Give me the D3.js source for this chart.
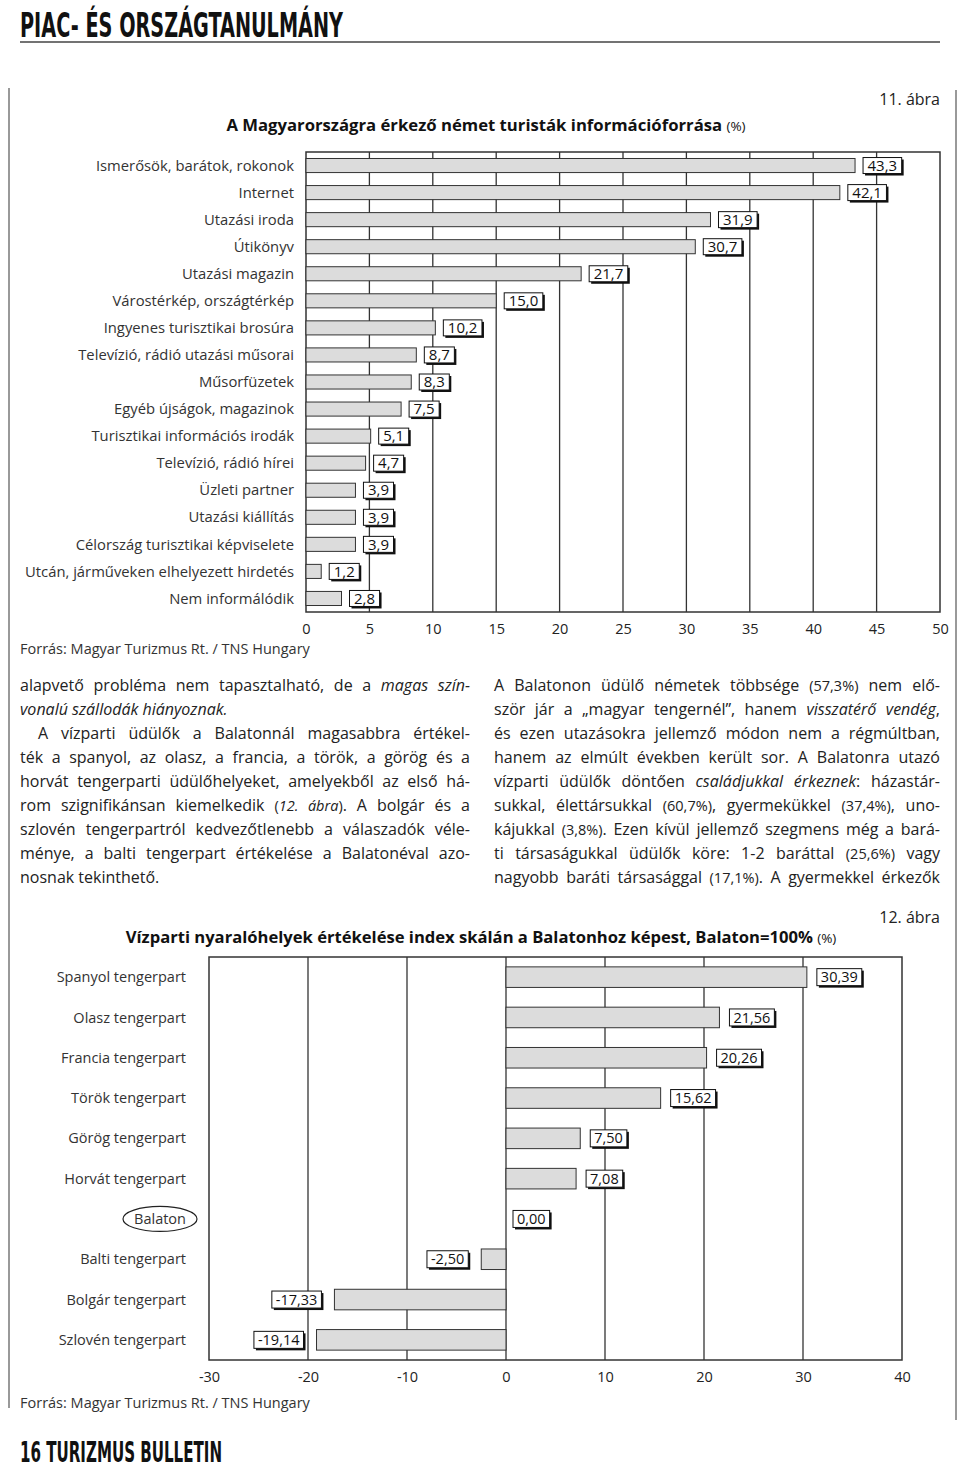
<!DOCTYPE html>
<html>
<head>
<meta charset="utf-8">
<script src="https://cdn.jsdelivr.net/npm/d3@7"></script>
<style>
  body { margin: 0; background: #fff; }
  svg { display: block; }
  text { font-family: "Open Sans", sans-serif; fill: #222; }
</style>
</head>
<body>
<div id="page"></div>
<script>
// --- chart 11: information sources ---
var sources = ["Ismerősök, barátok, rokonok", "Internet", "Utazási iroda", "Útikönyv",
  "Utazási magazin", "Várostérkép, országtérkép", "Ingyenes turisztikai brosúra",
  "Televízió, rádió utazási műsorai", "Műsorfüzetek", "Egyéb újságok, magazinok",
  "Turisztikai információs irodák", "Televízió, rádió hírei", "Üzleti partner",
  "Utazási kiállítás", "Célország turisztikai képviselete",
  "Utcán, járműveken elhelyezett hirdetés", "Nem informálódik"];
var sourceShare = [43.3, 42.1, 31.9, 30.7, 21.7, 15.0, 10.2, 8.7, 8.3, 7.5, 5.1, 4.7, 3.9, 3.9, 3.9, 1.2, 2.8];
var sourceTicks = [0, 5, 10, 15, 20, 25, 30, 35, 40, 45, 50];

// --- chart 12: seaside resorts vs Balaton ---
var resorts = ["Spanyol tengerpart", "Olasz tengerpart", "Francia tengerpart", "Török tengerpart",
  "Görög tengerpart", "Horvát tengerpart", "Balaton", "Balti tengerpart",
  "Bolgár tengerpart", "Szlovén tengerpart"];
var resortIndex = [30.39, 21.56, 20.26, 15.62, 7.50, 7.08, 0.00, -2.50, -17.33, -19.14];
var resortTicks = [-30, -20, -10, 0, 10, 20, 30, 40];

// body text, two columns (segments: [text, style])
var leftCol = [
  [["alapvető probléma nem tapasztalható, de a ", ""], ["magas szín-", "i"]],
  [["vonalú szállodák hiányoznak.", "i"]],
  [["A vízparti üdülők a Balatonnál magasabbra értékel-", ""]],
  [["ték a spanyol, az olasz, a francia, a török, a görög és a", ""]],
  [["horvát tengerparti üdülőhelyeket, amelyekből az első há-", ""]],
  [["rom szignifikánsan kiemelkedik ", ""], ["(", "s"], ["12. ábra", "si"], [")", "s"], [". A bolgár és a", ""]],
  [["szlovén tengerpartról kedvezőtlenebb a válaszadók véle-", ""]],
  [["ménye, a balti tengerpart értékelése a Balatonéval azo-", ""]],
  [["nosnak tekinthető.", ""]]
];
var leftJustify = [true, false, true, true, true, true, true, true, false];
var leftIndent = [0, 0, 18, 0, 0, 0, 0, 0, 0];
var rightCol = [
  [["A Balatonon üdülő németek többsége ", ""], ["(57,3%)", "s"], [" nem elő-", ""]],
  [["ször jár a „magyar tengernél”, hanem ", ""], ["visszatérő vendég", "i"], [",", ""]],
  [["és ezen utazásokra jellemző módon nem a régmúltban,", ""]],
  [["hanem az elmúlt években került sor. A Balatonra utazó", ""]],
  [["vízparti üdülők döntően ", ""], ["családjukkal érkeznek", "i"], [": házastár-", ""]],
  [["sukkal, élettársukkal ", ""], ["(60,7%)", "s"], [", gyermekükkel ", ""], ["(37,4%)", "s"], [", uno-", ""]],
  [["kájukkal ", ""], ["(3,8%)", "s"], [". Ezen kívül jellemző szegmens még a bará-", ""]],
  [["ti társaságukkal üdülők köre: 1-2 baráttal ", ""], ["(25,6%)", "s"], [" vagy", ""]],
  [["nagyobb baráti társasággal ", ""], ["(17,1%)", "s"], [". A gyermekkel érkezők", ""]]
];

var svg = d3.select("#page").append("svg")
    .attr("width", 960)
    .attr("height", 1471);

var fmt1 = function(v) { return d3.format(".1f")(v).replace(".", ",").replace("−", "-"); };
var fmt2 = function(v) { return d3.format(".2f")(v).replace(".", ",").replace("−", "-"); };

// page frame
svg.append("line").attr("x1", 9).attr("x2", 9).attr("y1", 88).attr("y2", 1408)
    .attr("stroke", "#999").attr("stroke-width", 2);
svg.append("line").attr("x1", 956).attr("x2", 956).attr("y1", 90).attr("y2", 1420)
    .attr("stroke", "#999").attr("stroke-width", 2);

// header
svg.append("text")
    .attr("x", 20).attr("y", 37)
    .attr("textLength", 323).attr("lengthAdjust", "spacingAndGlyphs")
    .style("font-family", "'DejaVu Sans Condensed', sans-serif")
    .style("font-weight", "bold").style("font-size", "34px").style("fill", "#111")
    .text("PIAC- ÉS ORSZÁGTANULMÁNY");
svg.append("line").attr("x1", 20).attr("x2", 940).attr("y1", 42).attr("y2", 42)
    .attr("stroke", "#444").attr("stroke-width", 1.5);

// footer
svg.append("text")
    .attr("x", 20).attr("y", 1462)
    .attr("textLength", 202).attr("lengthAdjust", "spacingAndGlyphs")
    .style("font-family", "'DejaVu Sans Condensed', sans-serif")
    .style("font-weight", "bold").style("font-size", "29px").style("fill", "#111")
    .text("16  TURIZMUS BULLETIN");

// value label with shadow box
function labelBox(g, x, cy, txt, size, h, pad, side) {
    var t = g.append("text").attr("y", cy).attr("dy", "0.35em")
        .attr("text-anchor", "middle").style("font-size", size + "px").style("fill", "#111").text(txt);
    var w = t.node().getComputedTextLength() + pad;
    var left = side === "left" ? x - w : x;
    t.attr("x", left + w / 2);
    g.insert("rect", function() { return t.node(); })
        .attr("x", left + 2).attr("y", cy - h / 2 + 2).attr("width", w).attr("height", h)
        .attr("fill", "#111");
    g.insert("rect", function() { return t.node(); })
        .attr("x", left).attr("y", cy - h / 2).attr("width", w).attr("height", h)
        .attr("fill", "#fff").attr("stroke", "#111").attr("stroke-width", 1);
}

// ================= chart 11 =================
svg.append("text").attr("x", 940).attr("y", 105).attr("text-anchor", "end")
    .style("font-size", "16px").text("11. ábra");
var t1 = svg.append("text").attr("x", 486).attr("y", 131).attr("text-anchor", "middle")
    .style("font-size", "16.7px").style("font-weight", "bold").style("fill", "#111");
t1.append("tspan").text("A Magyarországra érkező német turisták információforrása ");
t1.append("tspan").style("font-weight", "normal").style("font-size", "13.5px").text("(%)");

var x1 = d3.scaleLinear().domain([0, 50]).range([306, 940]);
var y1 = d3.scaleBand().domain(sources).range([152, 612]).paddingInner(0.48).paddingOuter(0.24);

var g1 = svg.append("g");
g1.selectAll(".grid").data(sourceTicks.slice(1, -1)).enter().append("line")
    .attr("x1", function(d) { return x1(d); }).attr("x2", function(d) { return x1(d); })
    .attr("y1", 152).attr("y2", 612)
    .attr("stroke", "#333").attr("stroke-width", 1.3);
g1.append("rect").attr("x", x1(0)).attr("y", 152).attr("width", x1(50) - x1(0)).attr("height", 460)
    .attr("fill", "none").attr("stroke", "#333").attr("stroke-width", 1.5);

g1.selectAll(".bar").data(sourceShare).enter().append("rect")
    .attr("x", x1(0))
    .attr("y", function(d, i) { return y1(sources[i]); })
    .attr("width", function(d) { return x1(d) - x1(0); })
    .attr("height", y1.bandwidth())
    .attr("fill", "#dcdcdc").attr("stroke", "#333").attr("stroke-width", 1);

sourceShare.forEach(function(d, i) {
    labelBox(g1, x1(d) + 8, y1(sources[i]) + y1.bandwidth() / 2, fmt1(d), 15, 16, 9, "right");
});

g1.selectAll(".cat").data(sources).enter().append("text")
    .attr("x", 294).attr("y", function(d) { return y1(d) + y1.bandwidth() / 2; })
    .attr("dy", "0.35em").attr("text-anchor", "end")
    .style("font-size", "14.8px").style("fill", "#333")
    .text(function(d) { return d; });

var ax1 = svg.append("g").attr("transform", "translate(0,612)")
    .call(d3.axisBottom(x1).tickValues(sourceTicks).tickSize(0).tickPadding(12));
ax1.select(".domain").remove();
ax1.selectAll("text").style("font-family", "'Open Sans', sans-serif").style("font-size", "14.5px").style("fill", "#222");

svg.append("text").attr("x", 20).attr("y", 654).style("font-size", "14.5px").style("fill", "#333")
    .text("Forrás: Magyar Turizmus Rt. / TNS Hungary");

// ================= body text =================
function writeColumn(lines, x0, width, justify, indent) {
    lines.forEach(function(segs, i) {
        var x = x0 + (indent ? indent[i] : 0);
        var t = svg.append("text").attr("x", x).attr("y", 691 + 24 * i)
            .style("font-size", "16px").style("fill", "#222");
        segs.forEach(function(s) {
            var ts = t.append("tspan").text(s[0]);
            if (s[1].indexOf("i") >= 0) ts.style("font-style", "italic");
            if (s[1].indexOf("s") >= 0) ts.style("font-size", "14.5px");
        });
        if (justify[i]) {
            var natural = t.node().getComputedTextLength();
            var spaces = segs.map(function(s) { return s[0]; }).join("").split(" ").length - 1;
            var target = x0 + width - x;
            if (spaces > 0) t.style("word-spacing", ((target - natural) / spaces) + "px");
        }
    });
}
writeColumn(leftCol, 20, 450, leftJustify, leftIndent);
writeColumn(rightCol, 494, 446, rightCol.map(function() { return true; }), null);

// ================= chart 12 =================
svg.append("text").attr("x", 940).attr("y", 923).attr("text-anchor", "end")
    .style("font-size", "16px").text("12. ábra");
var t2 = svg.append("text").attr("x", 481).attr("y", 943).attr("text-anchor", "middle")
    .style("font-size", "16.6px").style("font-weight", "bold").style("fill", "#111");
t2.append("tspan").text("Vízparti nyaralóhelyek értékelése index skálán a Balatonhoz képest, Balaton=100% ");
t2.append("tspan").style("font-weight", "normal").style("font-size", "13.5px").text("(%)");

var x2 = d3.scaleLinear().domain([-30, 40]).range([209, 902]);
var y2 = d3.scaleBand().domain(resorts).range([957, 1360]).paddingInner(0.49).paddingOuter(0.245);

var g2 = svg.append("g");
g2.selectAll(".grid").data(resortTicks.slice(1, -1)).enter().append("line")
    .attr("x1", function(d) { return x2(d); }).attr("x2", function(d) { return x2(d); })
    .attr("y1", 957).attr("y2", 1360)
    .attr("stroke", "#333").attr("stroke-width", 1.3);
g2.append("rect").attr("x", x2(-30)).attr("y", 957).attr("width", x2(40) - x2(-30)).attr("height", 403)
    .attr("fill", "none").attr("stroke", "#333").attr("stroke-width", 1.5);

g2.selectAll(".bar").data(resortIndex).enter().append("rect")
    .attr("x", function(d) { return x2(Math.min(0, d)); })
    .attr("y", function(d, i) { return y2(resorts[i]); })
    .attr("width", function(d) { return Math.abs(x2(d) - x2(0)); })
    .attr("height", y2.bandwidth())
    .attr("fill", "#dcdcdc").attr("stroke", "#333").attr("stroke-width", function(d) { return d === 0 ? 0 : 1; });

resortIndex.forEach(function(d, i) {
    var cy = y2(resorts[i]) + y2.bandwidth() / 2;
    if (d < 0) labelBox(g2, x2(d) - 13, cy, fmt2(d), 14.5, 17, 8, "left");
    else labelBox(g2, x2(d) + (d === 0 ? 7 : 10), cy, fmt2(d), 14.5, 17, 8, "right");
});

g2.selectAll(".cat").data(resorts).enter().append("text")
    .attr("x", 186).attr("y", function(d) { return y2(d) + y2.bandwidth() / 2; })
    .attr("dy", "0.35em").attr("text-anchor", "end")
    .style("font-size", "14.5px").style("fill", "#333")
    .text(function(d) { return d; });

// Balaton highlighted with an ellipse
g2.append("ellipse")
    .attr("cx", 160).attr("cy", y2("Balaton") + y2.bandwidth() / 2)
    .attr("rx", 37).attr("ry", 12.5)
    .attr("fill", "none").attr("stroke", "#222").attr("stroke-width", 1.2);

var ax2 = svg.append("g").attr("transform", "translate(0,1360)")
    .call(d3.axisBottom(x2).tickValues(resortTicks).tickSize(0).tickPadding(12).tickFormat(function(d) { return String(d); }));
ax2.select(".domain").remove();
ax2.selectAll("text").style("font-family", "'Open Sans', sans-serif").style("font-size", "14.5px").style("fill", "#222");

svg.append("text").attr("x", 20).attr("y", 1408).style("font-size", "14.5px").style("fill", "#333")
    .text("Forrás: Magyar Turizmus Rt. / TNS Hungary");
</script>
</body>
</html>
